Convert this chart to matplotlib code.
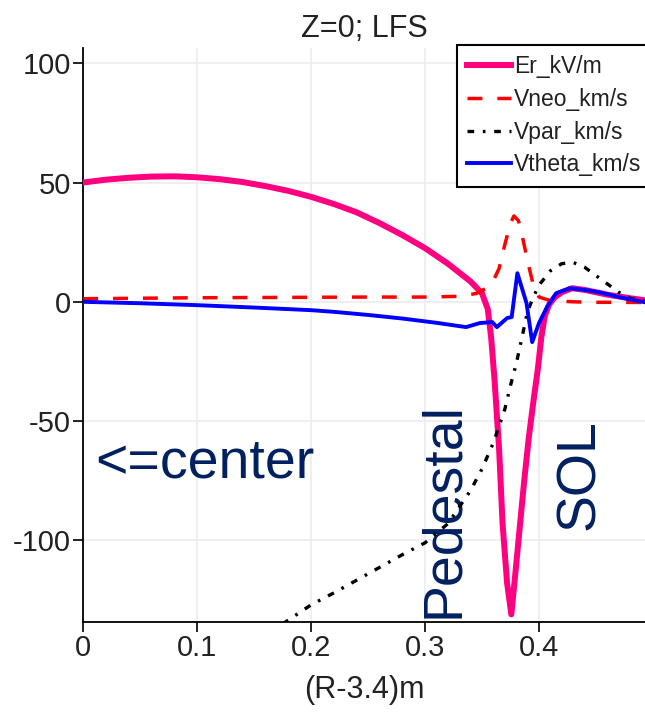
import matplotlib
matplotlib.use("Agg")
import matplotlib.pyplot as plt

plt.rcParams['font.family'] = ['Liberation Sans', 'DejaVu Sans']
plt.rcParams['axes.unicode_minus'] = False

# radial profiles at Z=0, low field side
er_x = [0, 0.02, 0.04, 0.06, 0.08, 0.10, 0.12, 0.14, 0.16, 0.18, 0.20, 0.22,
        0.24, 0.26, 0.28, 0.30, 0.32, 0.34, 0.350, 0.355, 0.358, 0.361, 0.365,
        0.368, 0.372, 0.3757, 0.379, 0.383, 0.387, 0.391, 0.395, 0.399,
        0.402, 0.405, 0.409, 0.414, 0.42, 0.429, 0.44, 0.46, 0.48, 0.495]
er_y = [50, 51.2, 52, 52.5, 52.6, 52.2, 51.4, 50.2, 48.5, 46.5, 44, 41,
        37.5, 33, 28, 22.5, 16, 8.5, 3.5, -3, -15, -33, -62,
        -93, -118, -131, -115, -95, -75, -57, -42, -28,
        -15, -6, -1, 2, 4, 5.7, 5, 3, 1.5, 0.5]

vneo_x = [0, 0.05, 0.10, 0.15, 0.20, 0.25, 0.30, 0.33, 0.345, 0.355, 0.36,
          0.365, 0.37, 0.375, 0.378, 0.382, 0.386, 0.39, 0.395, 0.40, 0.41,
          0.43, 0.45, 0.47, 0.495]
vneo_y = [1.3, 1.5, 1.7, 1.8, 1.9, 2.0, 2.0, 2.3, 3.5, 6, 9,
          14, 24, 33, 36, 34, 26, 17, 7, 2, 0.5,
          0, -0.2, -0.2, -0.3]

vpar_x = [0.175, 0.20, 0.22, 0.25, 0.28, 0.30, 0.32, 0.34, 0.35, 0.36, 0.37,
          0.375, 0.38, 0.385, 0.39, 0.395, 0.40, 0.41, 0.42, 0.43, 0.44, 0.45,
          0.46, 0.47, 0.48, 0.495]
vpar_y = [-135, -127, -122, -114, -106, -101, -93, -79, -70, -59, -45,
          -35, -26, -15, -4, 2, 7, 13, 16, 16.5, 14.5, 11,
          7.5, 4, 1.5, 0]

vth_x = [0, 0.05, 0.10, 0.15, 0.20, 0.22, 0.25, 0.28, 0.31, 0.336, 0.348,
         0.359, 0.363, 0.372, 0.376, 0.381, 0.389, 0.394, 0.400, 0.407, 0.415,
         0.427, 0.44, 0.453, 0.47, 0.48, 0.495]
vth_y = [0, -0.6, -1.4, -2.4, -3.5, -4.2, -5.5, -7.0, -8.8, -10.6, -8.9,
         -8.5, -10.6, -6.8, -6.4, 12, -0.5, -16.9, -8.9, -2.2, 3.6,
         5.7, 5, 4, 2, 1, -0.4]

labels = ['Er_kV/m', 'Vneo_km/s', 'Vpar_km/s', 'Vtheta_km/s']

fig = plt.figure(figsize=(6.45, 7.16), dpi=100)
ax = fig.add_axes([0.129, 0.1313, 0.871, 0.8017])

ax.plot(er_x, er_y, color='#FF0080', lw=4.3, label=labels[0], zorder=3)
ax.plot(vneo_x, vneo_y, color='#FF0000', lw=2.5, dashes=(4.3, 4.3),
        label=labels[1], zorder=4)
ax.plot(vpar_x, vpar_y, color='black', lw=2.4, dashes=(2.0, 2.6, 0.8, 2.6),
        label=labels[2], zorder=4)
ax.plot(vth_x, vth_y, color='#0000FF', lw=2.8, label=labels[3], zorder=5)

ax.set_xlim(0, 0.493)
ax.set_ylim(-134.2, 106.4)
ax.set_xticks([0, 0.1, 0.2, 0.3, 0.4])
ax.set_xticklabels(['0', '0.1', '0.2', '0.3', '0.4'])
ax.set_yticks([-100, -50, 0, 50, 100])

ax.grid(True, color='#ececec', lw=1.2)
ax.set_axisbelow(True)
for s in ['top', 'right']:
    ax.spines[s].set_visible(False)
for s in ['left', 'bottom']:
    ax.spines[s].set_linewidth(1.3)
ax.tick_params(direction='out', length=7, width=1.2, labelsize=21,
               colors='black', labelcolor='#222222', pad=2)

ax.set_title('Z=0; LFS', fontsize=22, color='#222222', pad=8)
ax.set_xlabel('(R-3.4)m', fontsize=22, color='#222222', labelpad=9)

leg = ax.legend(loc='upper left', bbox_to_anchor=(457 / 645, 1 - 45 / 716),
                bbox_transform=fig.transFigure, fontsize=16.5, frameon=True,
                fancybox=False, edgecolor='black', framealpha=1,
                handlelength=1.9, handletextpad=0.15, borderpad=0.45,
                labelspacing=0.42, borderaxespad=0)
leg.get_frame().set_linewidth(1.5)
for t in leg.get_texts():
    t.set_color('#222222')

navy = '#002060'
ann = dict(color=navy, fontsize=40)
ax.text(0.0103, -73.5, '<=center', ha='left', va='baseline', **ann)
ax.text(0.3164, -87.3, 'Pedestal', rotation=90, ha='center', va='center', **ann)
ax.text(0.4357, -72.6, 'SOL', rotation=90, ha='center', va='center', **ann)

fig.savefig('out.png', dpi=100)
